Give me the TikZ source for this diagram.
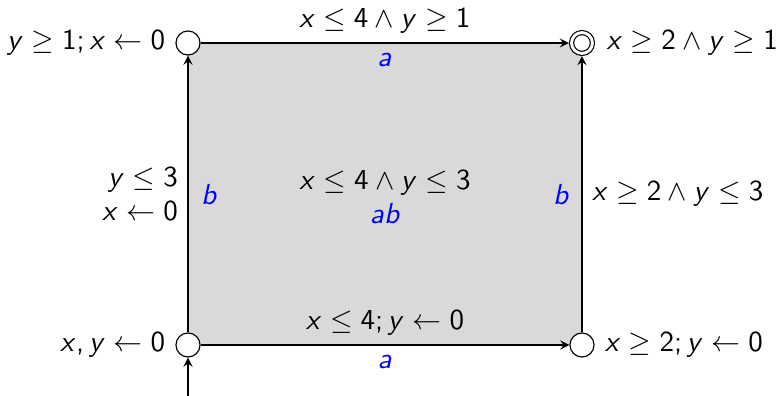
\documentclass[tikz,border=0pt]{standalone}
% sans serif letters and digits in math
\DeclareSymbolFont{sfit}{OT1}{cmss}{m}{sl}
\DeclareSymbolFont{sfup}{OT1}{cmss}{m}{n}
\DeclareMathSymbol{x}{\mathalpha}{sfit}{`x}
\DeclareMathSymbol{y}{\mathalpha}{sfit}{`y}
\DeclareMathSymbol{a}{\mathalpha}{sfit}{`a}
\DeclareMathSymbol{b}{\mathalpha}{sfit}{`b}
\DeclareMathSymbol{0}{\mathalpha}{sfup}{`0}
\DeclareMathSymbol{1}{\mathalpha}{sfup}{`1}
\DeclareMathSymbol{2}{\mathalpha}{sfup}{`2}
\DeclareMathSymbol{3}{\mathalpha}{sfup}{`3}
\DeclareMathSymbol{4}{\mathalpha}{sfup}{`4}
\DeclareMathSymbol{,}{\mathpunct}{sfup}{`,}
\DeclareMathSymbol{;}{\mathpunct}{sfup}{`;}
\begin{document}
\begin{tikzpicture}[x=0.345pt,y=-0.345pt,>=stealth,
  state/.style={circle,draw,fill=white,minimum size=8.3pt,inner sep=0pt},
  act/.style={text=blue}]
  \useasboundingbox (0,0) rectangle (778,396);
  \fill[black!15] (188,43) rectangle (582,345);
  \node[state,label=left:{$x,y\leftarrow 0$}] (l0) at (188,345) {};
  \node[state,label=right:{$x\geq 2; y\leftarrow 0$}] (l1) at (582,345) {};
  \node[state,label=left:{$y\geq 1; x\leftarrow 0$}] (l2) at (188,43) {};
  \node[state,double,double distance=1pt,minimum size=7.2pt,outer sep=0.9pt,
    label={[label distance=0.5pt]right:{$x\geq 2\wedge y\geq 1$}}] (l3) at (582,43) {};
  \node[align=center] (inv) at (385,197) {$x\leq 4\wedge y\leq 3$\\$\textcolor{blue}{ab}$};
  \coordinate (start) at (188,396);
  \draw[->] (start) -- (l0);
  \draw[->] (l0) -- (l1)
    node[midway,above] {$x\leq 4; y\leftarrow 0$}
    node[midway,below,act] {$a$};
  \draw[->] (l2) -- (l3)
    node[midway,above] {$x\leq 4\wedge y\geq 1$}
    node[midway,below,act] {$a$};
  \draw[->] (l0) -- (l2)
    node[midway,left,align=right] {$y\leq 3$\\$x\leftarrow 0$}
    node[midway,right=1pt,act] {$b$};
  \draw[->] (l1) -- (l3)
    node[midway,left=1pt,act] {$b$}
    node[midway,right] {$x\geq 2\wedge y\leq 3$};
\end{tikzpicture}
\end{document}
